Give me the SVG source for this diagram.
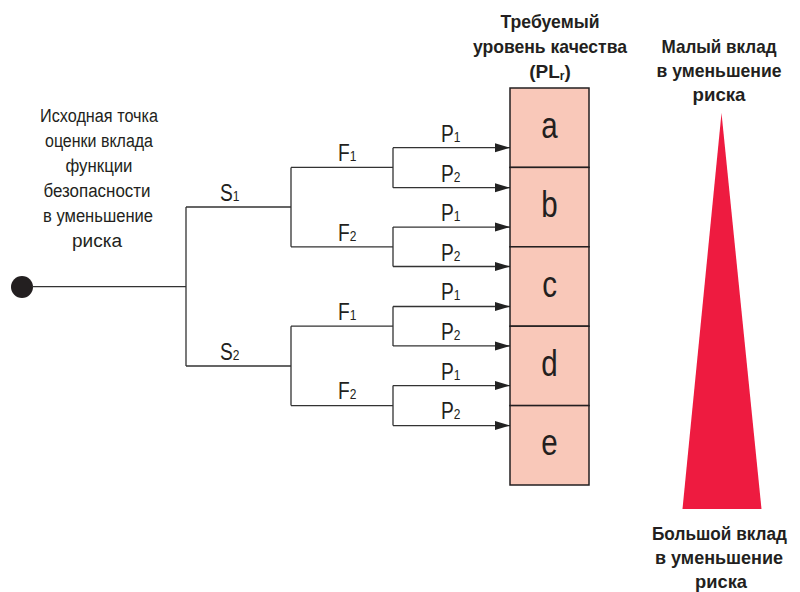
<svg xmlns="http://www.w3.org/2000/svg" width="800" height="592" viewBox="0 0 800 592">
  <defs>
    <marker id="arrow" markerUnits="userSpaceOnUse" markerWidth="16" markerHeight="10" refX="15" refY="5" orient="auto">
      <path d="M0,0.5 L15,5 L0,9.5 Z" fill="#222"/>
    </marker>
    <style>
      .t { font-family: "Liberation Sans", Arial, sans-serif; fill: #231f20; }
      .note { font-size: 18px; text-anchor: middle; }
      .head { font-size: 19px; font-weight: bold; text-anchor: middle; }
      .lbl { font-size: 24px; }
      .sub { font-size: 15px; }
      .cell { fill: #f9c8b9; stroke: #231f20; stroke-width: 1.5; }
      .letter { font-size: 36px; text-anchor: middle; }
      .wire { fill: none; stroke: #333; stroke-width: 1.3; }
      .arr { fill: none; stroke: #333; stroke-width: 1.3; marker-end: url(#arrow); }
    </style>
  </defs>

  <rect width="800" height="592" fill="#fff"/>

  <!-- starting point -->
  <g id="start">
    <circle cx="22" cy="287" r="11" fill="#231f20"/>
    <g class="t note">
      <text x="99" y="122" textLength="118" lengthAdjust="spacingAndGlyphs">Исходная точка</text>
      <text x="99" y="147" textLength="108" lengthAdjust="spacingAndGlyphs">оценки вклада</text>
      <text x="99" y="172" textLength="67" lengthAdjust="spacingAndGlyphs">функции</text>
      <text x="97" y="197" textLength="107" lengthAdjust="spacingAndGlyphs">безопасности</text>
      <text x="98" y="222" textLength="110" lengthAdjust="spacingAndGlyphs">в уменьшение</text>
      <text x="97" y="247" textLength="50" lengthAdjust="spacingAndGlyphs">риска</text>
    </g>
  </g>

  <!-- decision tree connectors -->
  <g id="connectors">
    <path class="wire" d="M32,286.7 H186 M186,207 V366 M186,207 H291 M186,366 H291"/>
    <path class="wire" d="M291,167.4 V246.8 M291,167.4 H393 M291,246.8 H393"/>
    <path class="wire" d="M291,326.2 V405.6 M291,326.2 H393 M291,405.6 H393"/>
    <path class="wire" d="M393,147.7 V187.7 M393,227.1 V266.5 M393,306.5 V345.9 M393,385.6 V425.6"/>
    <line class="arr" x1="393" y1="147.7" x2="510" y2="147.7"/>
    <line class="arr" x1="393" y1="187.7" x2="510" y2="187.7"/>
    <line class="arr" x1="393" y1="227.1" x2="510" y2="227.1"/>
    <line class="arr" x1="393" y1="266.5" x2="510" y2="266.5"/>
    <line class="arr" x1="393" y1="306.5" x2="510" y2="306.5"/>
    <line class="arr" x1="393" y1="345.9" x2="510" y2="345.9"/>
    <line class="arr" x1="393" y1="385.6" x2="510" y2="385.6"/>
    <line class="arr" x1="393" y1="425.6" x2="510" y2="425.6"/>
  </g>

  <!-- branch labels (narrowed horizontally) -->
  <g id="labels" class="t lbl">
    <text transform="translate(220 201) scale(0.8 1)">S<tspan class="sub">1</tspan></text>
    <text transform="translate(220 360) scale(0.8 1)">S<tspan class="sub">2</tspan></text>
    <text transform="translate(338 161) scale(0.8 1)">F<tspan class="sub">1</tspan></text>
    <text transform="translate(338 241) scale(0.8 1)">F<tspan class="sub">2</tspan></text>
    <text transform="translate(338 320) scale(0.8 1)">F<tspan class="sub">1</tspan></text>
    <text transform="translate(338 399) scale(0.8 1)">F<tspan class="sub">2</tspan></text>
    <text transform="translate(441 142) scale(0.8 1)">P<tspan class="sub">1</tspan></text>
    <text transform="translate(441 182) scale(0.8 1)">P<tspan class="sub">2</tspan></text>
    <text transform="translate(441 221) scale(0.8 1)">P<tspan class="sub">1</tspan></text>
    <text transform="translate(441 261) scale(0.8 1)">P<tspan class="sub">2</tspan></text>
    <text transform="translate(441 300) scale(0.8 1)">P<tspan class="sub">1</tspan></text>
    <text transform="translate(441 340) scale(0.8 1)">P<tspan class="sub">2</tspan></text>
    <text transform="translate(441 380) scale(0.8 1)">P<tspan class="sub">1</tspan></text>
    <text transform="translate(441 419) scale(0.8 1)">P<tspan class="sub">2</tspan></text>
  </g>

  <!-- required performance level column -->
  <g id="plr-title" class="t head">
    <text x="550" y="28" textLength="99" lengthAdjust="spacingAndGlyphs">Требуемый</text>
    <text x="550" y="53" textLength="154" lengthAdjust="spacingAndGlyphs">уровень качества</text>
    <text x="550" y="78">(PL<tspan font-size="12" dy="2">r</tspan><tspan dy="-2">)</tspan></text>
  </g>

  <g id="pl-a">
    <rect class="cell" x="510" y="88" width="79" height="79.4"/>
    <text class="t letter" transform="translate(549.5 137.7) scale(0.82 1.05)">a</text>
  </g>
  <g id="pl-b">
    <rect class="cell" x="510" y="167.4" width="79" height="79.4"/>
    <text class="t letter" transform="translate(549.5 217.1) scale(0.82 1.05)">b</text>
  </g>
  <g id="pl-c">
    <rect class="cell" x="510" y="246.8" width="79" height="79.4"/>
    <text class="t letter" transform="translate(549.5 296.5) scale(0.82 1.05)">c</text>
  </g>
  <g id="pl-d">
    <rect class="cell" x="510" y="326.2" width="79" height="79.4"/>
    <text class="t letter" transform="translate(549.5 375.9) scale(0.82 1.05)">d</text>
  </g>
  <g id="pl-e">
    <rect class="cell" x="510" y="405.6" width="79" height="79.4"/>
    <text class="t letter" transform="translate(549.5 455.3) scale(0.82 1.05)">e</text>
  </g>

  <!-- risk reduction scale -->
  <g id="risk-scale">
    <polygon points="721.5,113 682.5,509 761.5,509" fill="#ee1b40"/>
    <g class="t head">
      <text x="719" y="53" textLength="115" lengthAdjust="spacingAndGlyphs">Малый вклад</text>
      <text x="719" y="77" textLength="125" lengthAdjust="spacingAndGlyphs">в уменьшение</text>
      <text x="719" y="101" textLength="53" lengthAdjust="spacingAndGlyphs">риска</text>
      <text x="719.5" y="540" textLength="135" lengthAdjust="spacingAndGlyphs">Большой вклад</text>
      <text x="719" y="564" textLength="128" lengthAdjust="spacingAndGlyphs">в уменьшение</text>
      <text x="721" y="588" textLength="52" lengthAdjust="spacingAndGlyphs">риска</text>
    </g>
  </g>
</svg>
